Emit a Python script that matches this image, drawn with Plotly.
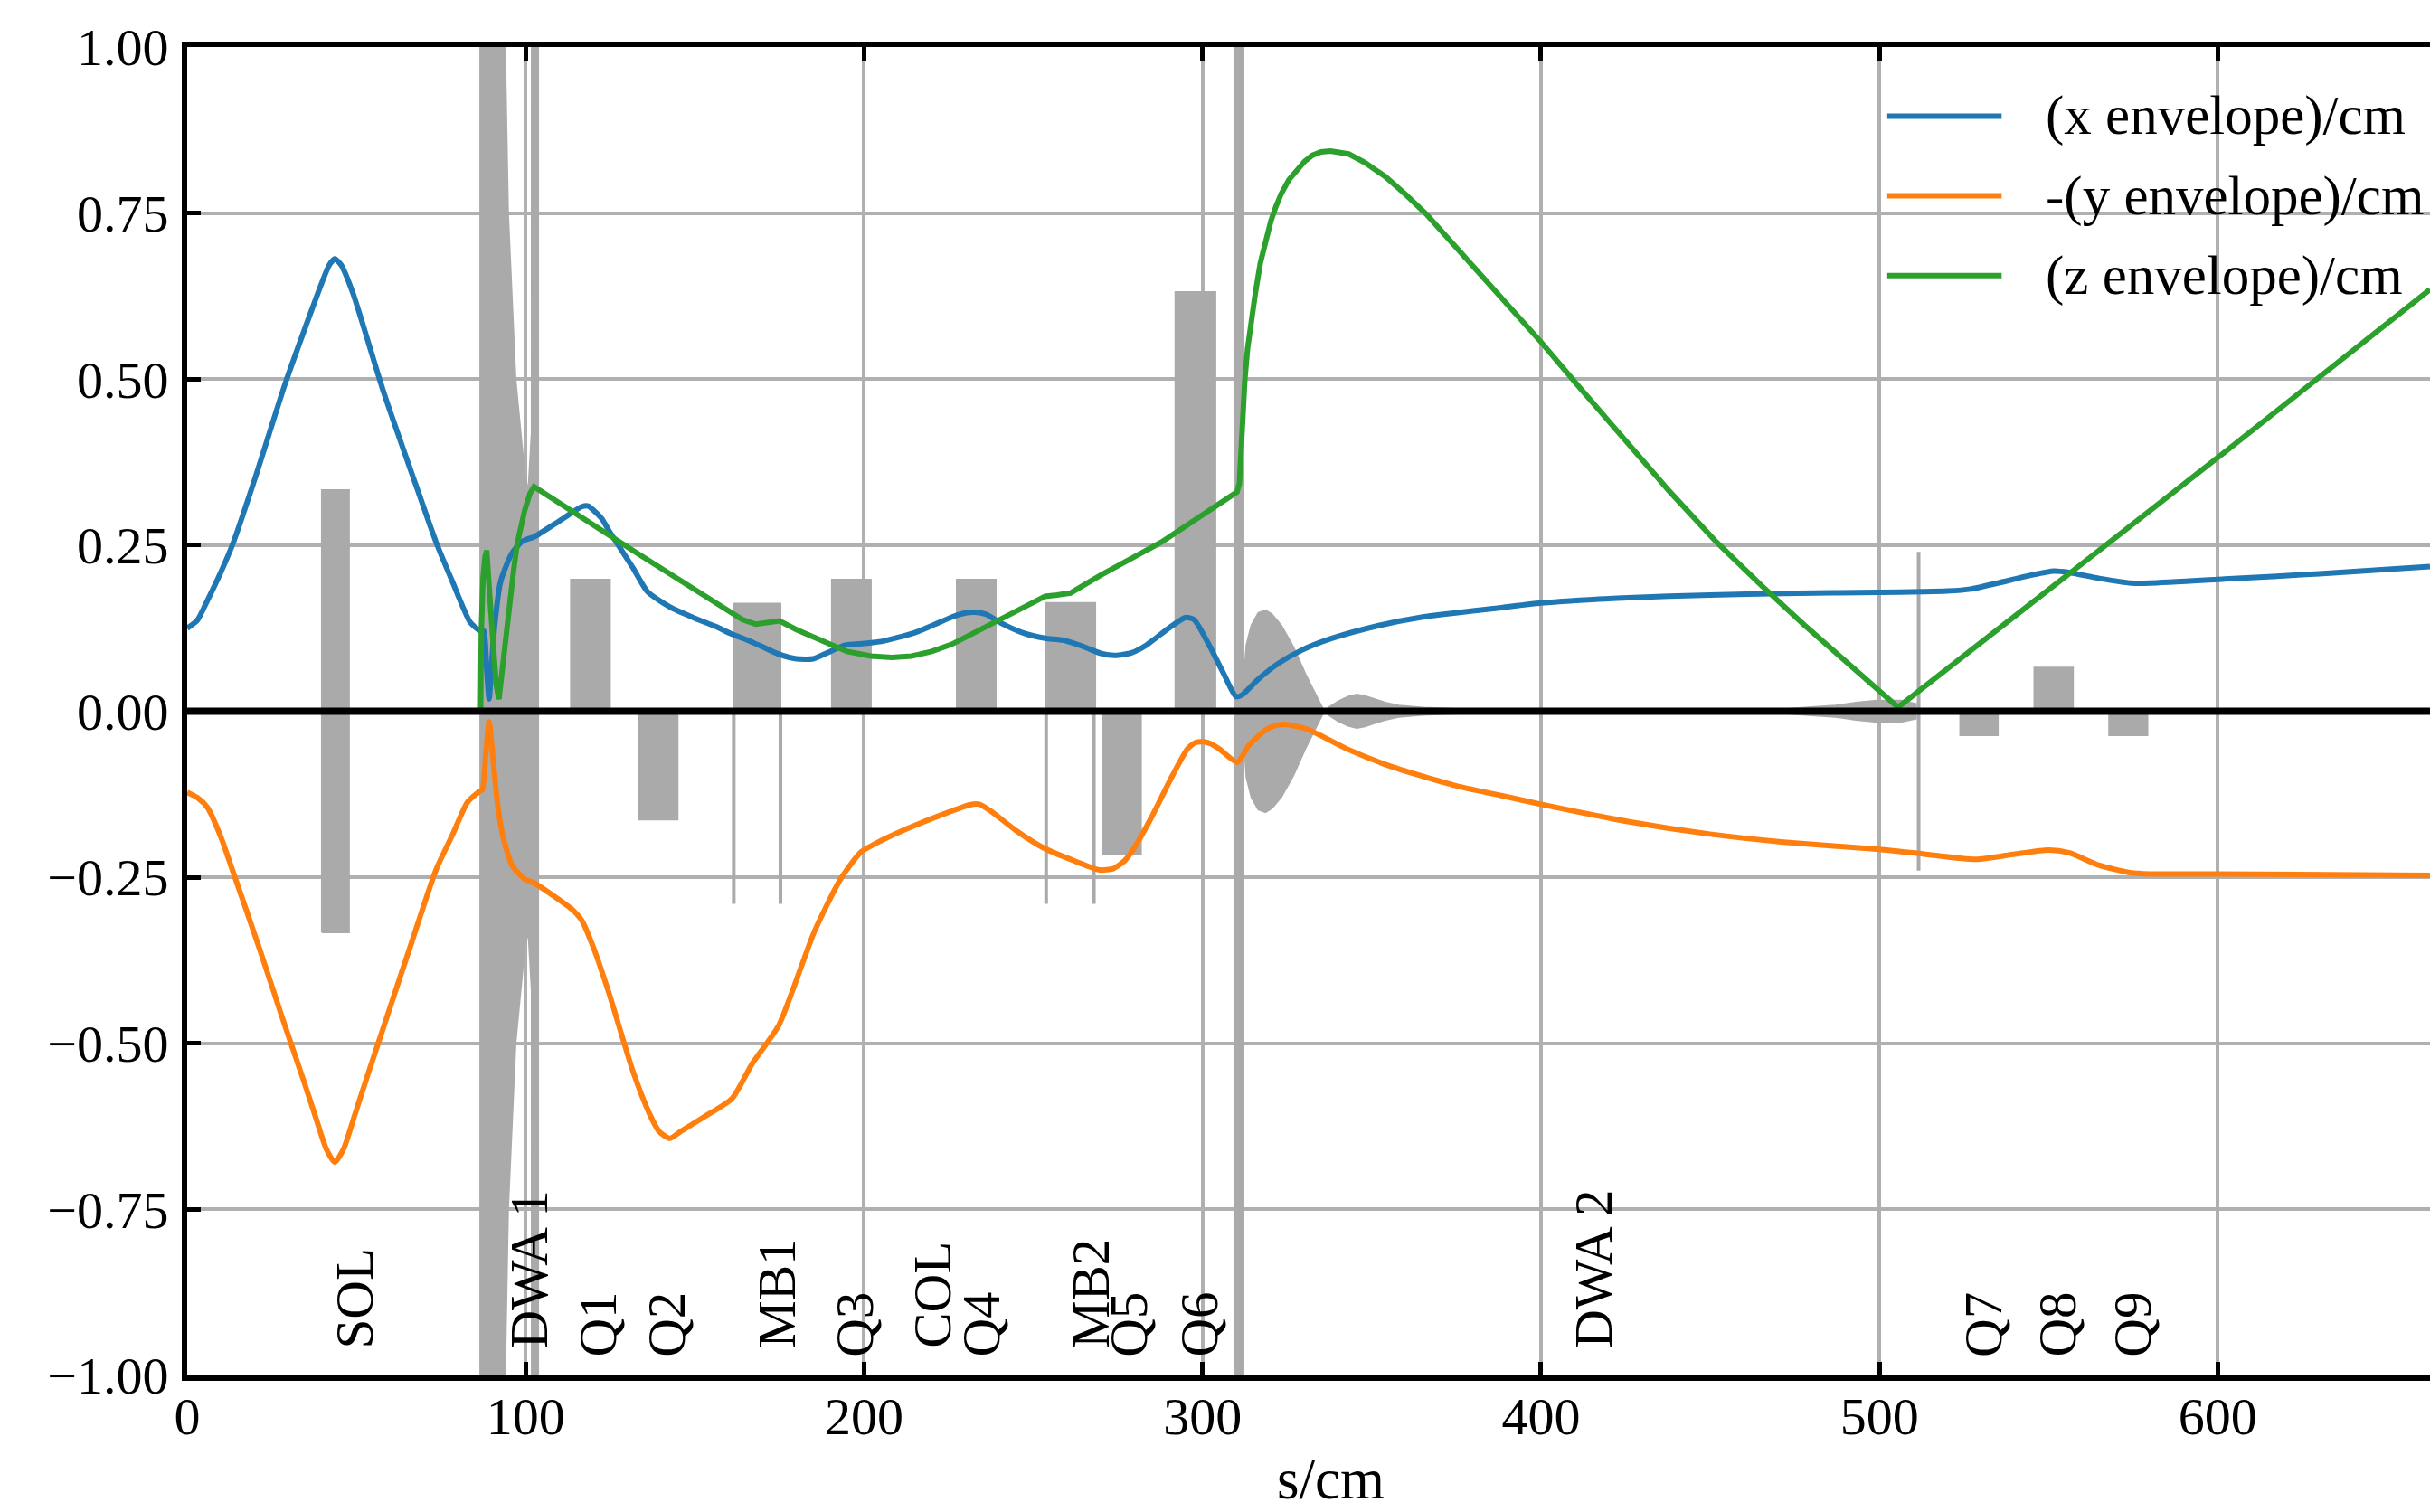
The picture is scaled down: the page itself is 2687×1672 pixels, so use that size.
import plotly.graph_objects as go

# ---------------- data ----------------
# beam envelopes: (s [cm], value [cm])
x_env_pts = [(0, 0.125), (3, 0.137), (6, 0.167), (10, 0.21), (13.7, 0.255), (20, 0.35),
             (29, 0.494), (36.7, 0.603), (40, 0.648), (42, 0.672), (43.6, 0.681), (45.5, 0.672),
             (49, 0.629), (58.2, 0.478), (67.4, 0.343), (73.5, 0.255), (78.3, 0.196), (83.6, 0.134),
             (86.3, 0.122), (87.6, 0.121), (88.4, 0.07), (89.2, 0.0185), (90, 0.075), (90.8, 0.127),
             (92.5, 0.193), (94.5, 0.222), (96.1, 0.239), (98.8, 0.255), (100.5, 0.259), (102.3, 0.262),
             (109.5, 0.285), (114, 0.300), (116.6, 0.308), (118.5, 0.309), (120.2, 0.302), (122.5, 0.29),
             (124.6, 0.272), (131.7, 0.216), (136, 0.18), (142.6, 0.157), (150, 0.14), (156, 0.128),
             (161, 0.116), (165.6, 0.107), (170, 0.097), (174.8, 0.086), (180, 0.079), (185, 0.079),
             (190, 0.09), (194.4, 0.0995), (200, 0.102), (205.1, 0.105), (210, 0.111), (215.9, 0.12),
             (221, 0.131), (226, 0.142), (230, 0.148), (232.8, 0.149), (236, 0.146), (240.4, 0.133),
             (247, 0.118), (253.5, 0.110), (258.8, 0.107), (265, 0.097), (270, 0.087), (274.2, 0.084),
             (279, 0.088), (283.4, 0.0995), (290, 0.125), (294.9, 0.141), (297.5, 0.138), (301.8, 0.101),
             (306.3, 0.056), (309.9, 0.022), (311.7, 0.0245), (316.2, 0.047), (322.4, 0.072),
             (329.5, 0.0924), (338.4, 0.11), (351.8, 0.1287), (365.1, 0.142), (388.3, 0.156),
             (400, 0.163), (425.7, 0.171), (450, 0.175), (471.7, 0.1775), (500, 0.179), (513.1, 0.18),
             (520, 0.181), (527, 0.184), (535, 0.193), (545, 0.205), (551.5, 0.211), (556, 0.209),
             (565, 0.200), (574.5, 0.193), (580, 0.193), (602, 0.199), (630, 0.207), (662.7, 0.218)]

y_env_pts = [(0, -0.122), (3, -0.13), (6, -0.145), (10, -0.19), (13.7, -0.244), (21.4, -0.358),
             (28, -0.46), (34.4, -0.556), (38, -0.612), (41, -0.658), (43.6, -0.679), (46.3, -0.658),
             (49.5, -0.608), (52.8, -0.556), (60, -0.445), (66, -0.353), (73.5, -0.239), (78.3, -0.187),
             (82.8, -0.137), (86.3, -0.121), (87.2, -0.118), (88.3, -0.06), (89.2, -0.0155),
             (90.3, -0.068), (91.7, -0.14), (93.5, -0.193), (96.1, -0.233), (99.7, -0.2526),
             (102.3, -0.258), (108, -0.277), (113.9, -0.299), (116.6, -0.315), (120.2, -0.358),
             (124.6, -0.424), (131.7, -0.542), (136.5, -0.605), (139.5, -0.633), (142.6, -0.643),
             (146, -0.632), (153, -0.61), (161, -0.583), (167, -0.53), (174.8, -0.473), (185.3, -0.332),
             (192.9, -0.254), (199, -0.2125), (205, -0.195), (215, -0.172), (225, -0.152),
             (231.2, -0.141), (234, -0.140), (237.4, -0.150), (245, -0.18), (253.5, -0.207),
             (262, -0.225), (269.6, -0.239), (273.6, -0.237), (277, -0.225), (280.3, -0.202),
             (284.9, -0.16), (291, -0.098), (295.6, -0.0565), (298, -0.047), (300.3, -0.046),
             (302.5, -0.049), (304.9, -0.0565), (310.3, -0.077), (313.5, -0.0526), (318.8, -0.0276),
             (322, -0.021), (325, -0.020), (331.2, -0.0276), (342.8, -0.057), (356.2, -0.084),
             (374, -0.111), (388.3, -0.127), (400, -0.14), (425.7, -0.166), (450, -0.185),
             (471.7, -0.197), (500, -0.208), (513.1, -0.215), (528.5, -0.223), (540, -0.215),
             (550, -0.209), (556, -0.213), (565, -0.232), (574, -0.243), (580, -0.245), (600, -0.245),
             (662.7, -0.247)]

z_env_pts = [(0, 0), (86.7, 0), (86.9, 0.12), (87.4, 0.2), (88.0, 0.232), (88.5, 0.242), (89.3, 0.18),
             (90.3, 0.1), (91.3, 0.04), (92.1, 0.018), (93, 0.06), (94, 0.11), (95.2, 0.16),
             (96.4, 0.21), (97.5, 0.252), (98.6, 0.28), (99.7, 0.302), (101.3, 0.328), (102.5, 0.338),
             (131.7, 0.242), (164, 0.138), (168, 0.131), (172, 0.133), (175, 0.136), (180, 0.123),
             (185.2, 0.111), (190, 0.1), (195, 0.09), (202, 0.083), (208.2, 0.081), (214, 0.083),
             (220, 0.09), (226, 0.101), (231.2, 0.115), (237, 0.129), (243, 0.145), (248, 0.159),
             (253.5, 0.173), (257, 0.175), (261, 0.178), (265, 0.19), (270, 0.205), (288, 0.255),
             (310.2, 0.33), (310.9, 0.343), (311.7, 0.43), (312.5, 0.499), (313.3, 0.545),
             (314.1, 0.577), (315.6, 0.629), (317.1, 0.675), (318.6, 0.71), (320.2, 0.738),
             (321.7, 0.76), (323.3, 0.7795), (325.5, 0.8), (327.9, 0.816), (330.2, 0.828),
             (332.5, 0.837), (335, 0.842), (337.8, 0.8435), (340.5, 0.842), (343.2, 0.839),
             (348, 0.826), (354, 0.805), (360, 0.778), (366.2, 0.748), (375, 0.698), (384.6, 0.644),
             (400, 0.556), (412, 0.484), (425.7, 0.403), (438, 0.331), (451.8, 0.255), (465, 0.19),
             (478, 0.129), (492, 0.067), (505.5, 0.006), (569.9, 0.262), (602, 0.39), (662.7, 0.635)]

# lattice elements drawn as grey blocks: start, end, strength (signed height)
block_names = ["Q1", "Q2", "MB1", "Q3", "Q4", "MB2", "Q5", "Q6", "Q7", "Q8", "Q9"]
block_start = [113.4, 133.4, 161.5, 190.5, 227.4, 253.6, 270.7, 292.0, 523.9, 545.8, 567.9]
block_end   = [124.9, 144.9, 175.3, 202.0, 238.9, 268.3, 281.8, 303.8, 535.0, 557.2, 579.2]
block_height = [0.198, -0.163, 0.162, 0.198, 0.198, 0.163, -0.215, 0.631, -0.036, 0.0656, -0.036]

# solenoid (symmetric block)
sol_start, sol_end, sol_half = 39.8, 47.8, 0.333

# dipole edge kicks and kicker spikes: position, low, high
spike_s = [161.5, 175.3, 253.8, 267.9, 511.6]
spike_lo = [-0.29, -0.29, -0.29, -0.29, -0.24]
spike_hi = [0.0, 0.0, 0.0, 0.0, 0.24]

# dielectric wakefield accelerator profiles (symmetric half-width)
dwa1_s = [86.6, 86.6, 92.5, 93.9, 94.8, 97.0, 99.7, 100.8, 101.8, 101.85, 103.7, 103.7]
dwa1_w = [0.0, 1.6, 1.3, 1.0, 0.75, 0.5, 0.357, 0.33, 0.42, 1.6, 1.6, 0.0]
dwa2_s = [309.6, 309.6, 312.1, 312.1, 312.4, 313, 314.5, 316.5, 318.6, 320.5, 323.3, 326.8, 330.4,
          334, 335.9, 338, 340.2, 343, 345.6, 348, 350.9, 354, 358, 365, 374, 388, 420, 450, 471.7,
          480, 487, 493, 499.3, 506.4, 510.8, 510.8]
dwa2_w = [0.0, 1.6, 1.6, 0.03, 0.06, 0.1, 0.13, 0.148, 0.152, 0.146, 0.129, 0.097, 0.056,
          0.020, 0.0, 0.008, 0.015, 0.022, 0.025, 0.023, 0.0177, 0.013, 0.0086, 0.0054, 0.0036,
          0.0027, 0.002, 0.002, 0.003, 0.006, 0.0085, 0.013, 0.016, 0.016, 0.011, 0.0]

# element labels
label_text = ["SOL", "DWA 1", "Q1", "Q2", "MB1", "Q3", "COL", "Q4", "MB2", "Q5", "Q6", "DWA 2",
              "Q7", "Q8", "Q9"]
label_s = [49.4, 101.0, 121.3, 141.4, 174.0, 197.0, 220.1, 234.6, 266.8, 278.2, 299.0, 415.3,
           530.5, 552.6, 574.8]
label_y = [-0.962, -0.962, -0.975, -0.975, -0.962, -0.975, -0.962, -0.975, -0.962, -0.975, -0.975,
           -0.962, -0.975, -0.975, -0.975]

x_ticks = [0, 100, 200, 300, 400, 500, 600]
y_ticks = [-1.0, -0.75, -0.5, -0.25, 0.0, 0.25, 0.5, 0.75, 1.0]

series_names = ["(x envelope)/cm", "-(y envelope)/cm", "(z envelope)/cm"]
series_colors = ["#1f77b4", "#ff7f0e", "#2ca02c"]
series_shapes = ["spline", "spline", "linear"]

# ---------------- figure ----------------
GRAY = "#aaaaaa"
FONT = "Liberation Serif"
fig = go.Figure()

def add_poly(xs, ys):
    fig.add_trace(go.Scatter(x=xs, y=ys, mode="lines", fill="toself", fillcolor=GRAY,
                             line=dict(color=GRAY, width=2), hoverinfo="skip", showlegend=False))

# symmetric profiles
for s_arr, w_arr in [(dwa1_s, dwa1_w), (dwa2_s, dwa2_w)]:
    xs = list(s_arr) + list(reversed(s_arr))
    ys = list(w_arr) + [-w for w in reversed(w_arr)]
    add_poly(xs, ys)

# solenoid
add_poly([sol_start, sol_start, sol_end, sol_end, sol_start],
         [-sol_half, sol_half, sol_half, -sol_half, -sol_half])

# quads / dipoles
for a, b, h in zip(block_start, block_end, block_height):
    add_poly([a, a, b, b, a], [0, h, h, 0, 0])

# spikes
for s0, lo, hi in zip(spike_s, spike_lo, spike_hi):
    fig.add_trace(go.Scatter(x=[s0, s0], y=[lo, hi], mode="lines",
                             line=dict(color=GRAY, width=4), hoverinfo="skip", showlegend=False))

# envelopes
for pts, name, col, shp in zip([x_env_pts, y_env_pts, z_env_pts], series_names, series_colors,
                               series_shapes):
    line = dict(color=col, width=6, shape=shp)
    if shp == "spline":
        line["smoothing"] = 0.6
    fig.add_trace(go.Scatter(x=[p[0] for p in pts], y=[p[1] for p in pts], mode="lines",
                             name=name, line=line, showlegend=False))

# labels
for t, s0, y0 in zip(label_text, label_s, label_y):
    fig.add_annotation(x=s0, y=y0, xref="x", yref="y", text=t, showarrow=False, textangle=-90,
                       xanchor="center", yanchor="bottom",
                       font=dict(family=FONT, size=59, color="black"))

# zero line on top
fig.add_shape(type="line", xref="paper", yref="y", x0=0, x1=1, y0=0, y1=0,
              line=dict(color="black", width=8), layer="above")

# manual legend (no frame)
leg_y = [0.948, 0.888, 0.828]
for name, col, yy in zip(series_names, series_colors, leg_y):
    fig.add_shape(type="line", xref="paper", yref="paper", x0=0.758, x1=0.809, y0=yy, y1=yy,
                  line=dict(color=col, width=6), layer="above")
    fig.add_annotation(x=0.828, y=yy, xref="paper", yref="paper", text=name, showarrow=False,
                       xanchor="left", yanchor="middle",
                       font=dict(family=FONT, size=61, color="black"))

# x-axis label
fig.add_annotation(x=0.510, y=-0.078, xref="paper", yref="paper", text="s/cm", showarrow=False,
                   xanchor="center", yanchor="middle", font=dict(family=FONT, size=63, color="black"))

axis_common = dict(showgrid=True, gridcolor="#b0b0b0", gridwidth=3.5, zeroline=False,
                   showline=True, linecolor="black", linewidth=6, ticks="inside", ticklen=15,
                   tickwidth=5, tickcolor="black", tickfont=dict(family=FONT, size=58, color="black"))

fig.update_xaxes(range=[0, 662.7], tickvals=x_ticks, mirror="ticks", ticklabelstandoff=-11,
                 **axis_common)
fig.update_yaxes(range=[-1, 1], tickvals=y_ticks, tickformat=".2f", mirror=False,
                 ticklabelstandoff=3, **axis_common)

fig.update_layout(width=2687, height=1672, margin=dict(l=207, r=0, t=52, b=151),
                  plot_bgcolor="white", paper_bgcolor="white", showlegend=False,
                  font=dict(family=FONT, size=56, color="black"))

fig.write_html("out.html", config={"displayModeBar": False},
               post_script="document.body.style.margin='0';document.body.style.overflow='hidden';")
